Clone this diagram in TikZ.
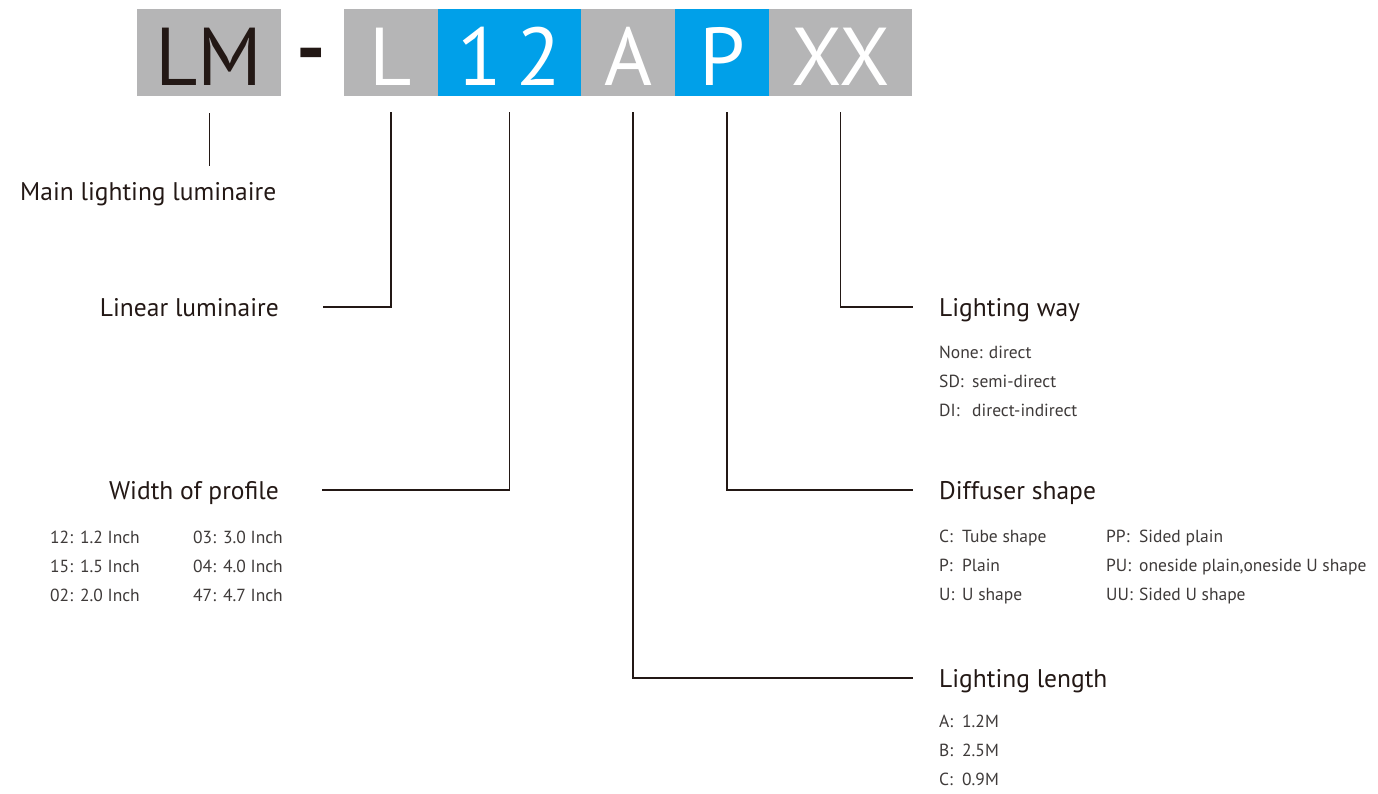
\documentclass[tikz,border=0pt]{standalone}
\usepackage{fontspec}
\setmainfont{PT Sans}
\usetikzlibrary{positioning}
\definecolor{codegrey}{RGB}{181,181,182}
\definecolor{codeblue}{RGB}{0,160,233}
\definecolor{ink}{RGB}{35,24,21}
\definecolor{itemgrey}{RGB}{62,58,57}
\newcommand{\keyw}[2]{\makebox[#1][l]{#2}}

\begin{document}
\begin{tikzpicture}[x=1pt,y=-1pt,
    box/.style={anchor=north west,minimum height=87pt,inner sep=0pt,outer sep=0pt,
      text height=65pt,text depth=0pt,font=\fontsize{82}{82}\selectfont,text=white},
    head/.style={inner sep=0pt,text=ink,font=\fontsize{25.5}{30}\selectfont},
    item/.style={anchor=base west,inner sep=0pt,text=itemgrey,font=\fontsize{17.5}{21}\selectfont},
    link/.style={draw=ink,line width=1.6pt}]
  \useasboundingbox (0,0) rectangle (1378,793);

  % code boxes
  \node[box,fill=codegrey,minimum width=144pt,text=ink] (LM) at (137,9) {LM};
  \node[anchor=base,inner sep=0pt,text=ink,font=\fontsize{82}{82}\selectfont\bfseries] (dash) at (311.5,76) {-};
  \node[box,fill=codegrey,minimum width=94pt] (L) at (344,9) {L};
  \node[box,fill=codeblue,minimum width=143pt,right=0pt of L] (W) {1\hspace{14pt}2};
  \node[box,fill=codegrey,minimum width=94pt,right=0pt of W] (A) {A};
  \node[box,fill=codeblue,minimum width=94pt,right=0pt of A] (P) {P};
  \node[box,fill=codegrey,minimum width=143pt,right=0pt of P] (XX) {XX};

  % headings
  \node[head,anchor=base west] (main) at (20,200) {Main lighting luminaire};
  \node[head,anchor=base east] (lin) at (279,316) {Linear luminaire};
  \node[head,anchor=base east] (wid) at (279,499) {Width of profile};
  \node[head,anchor=base west] (way) at (939,316) {Lighting way};
  \node[head,anchor=base west] (dif) at (939,499) {Diffuser shape};
  \node[head,anchor=base west] (len) at (939,687) {Lighting length};

  % connectors
  \draw[link,line width=0.8pt] ([yshift=-17pt]LM.south) -- ([yshift=16pt]LM.south |- main.north);
  \draw[link] ([yshift=-16pt]L.south) |- ([xshift=44pt,yshift=9pt]lin.base east);
  \draw[link] ([yshift=-16pt]W.south) |- ([xshift=43pt,yshift=9pt]wid.base east);
  \draw[link] ([xshift=5pt,yshift=-16pt]A.south) |- ([xshift=-26pt,yshift=9pt]len.base west);
  \draw[link] ([xshift=5pt,yshift=-16pt]P.south) |- ([xshift=-26pt,yshift=9pt]dif.base west);
  \draw[link] ([yshift=-16pt]XX.south) |- ([xshift=-26pt,yshift=9pt]way.base west);

  % width of profile
  \node[item] (w1) at (50,543) {\keyw{30pt}{12:}1.2 Inch};
  \node[item] (w2) at (50,572) {\keyw{30pt}{15:}1.5 Inch};
  \node[item] (w3) at (50,601) {\keyw{30pt}{02:}2.0 Inch};
  \node[item] (w4) at (193,543) {\keyw{30pt}{03:}3.0 Inch};
  \node[item] (w5) at (193,572) {\keyw{30pt}{04:}4.0 Inch};
  \node[item] (w6) at (193,601) {\keyw{30pt}{47:}4.7 Inch};

  % lighting way
  \node[item] (y1) at (939,358) {None: direct};
  \node[item] (y2) at (939,387) {\keyw{33pt}{SD:}semi-direct};
  \node[item] (y3) at (939,416) {\keyw{33pt}{DI:}direct-indirect};

  % diffuser shape
  \node[item] (d1) at (939,542) {\keyw{23pt}{C:}Tube shape};
  \node[item] (d2) at (939,571) {\keyw{23pt}{P:}Plain};
  \node[item] (d3) at (939,600) {\keyw{23pt}{U:}U shape};
  \node[item] (d4) at (1106,542) {\keyw{33pt}{PP:}Sided plain};
  \node[item] (d5) at (1106,571) {\keyw{33pt}{PU:}oneside plain,oneside U shape};
  \node[item] (d6) at (1106,600) {\keyw{33pt}{UU:}Sided U shape};

  % lighting length
  \node[item] (l1) at (939,727) {\keyw{23pt}{A:}1.2M};
  \node[item] (l2) at (939,756) {\keyw{23pt}{B:}2.5M};
  \node[item] (l3) at (939,785) {\keyw{23pt}{C:}0.9M};
\end{tikzpicture}
\end{document}
